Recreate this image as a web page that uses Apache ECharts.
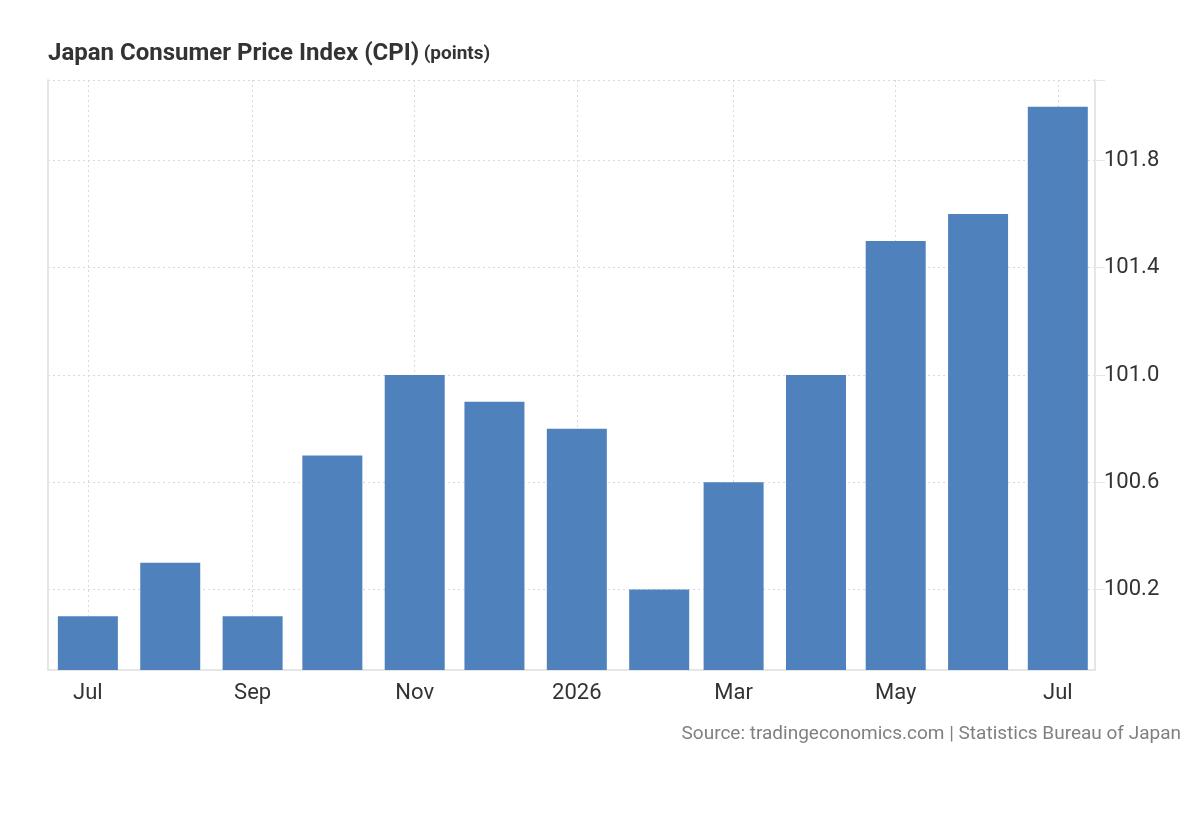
<!DOCTYPE html>
<html>
<head>
<meta charset="utf-8">
<title>Japan Consumer Price Index (CPI)</title>
<script src="https://cdn.jsdelivr.net/npm/echarts@6/dist/echarts.min.js"></script>
<style>
  html, body { margin: 0; padding: 0; background: #fff; }
  #chart { width: 1200px; height: 820px; }
</style>
</head>
<body>
<div id="chart"></div>
<script>
// monthly readings, Jul 2025 - Jul 2026
var months = ['2025-07-01', '2025-08-01', '2025-09-01', '2025-10-01', '2025-11-01', '2025-12-01',
  '2026-01-01', '2026-02-01', '2026-03-01', '2026-04-01', '2026-05-01', '2026-06-01', '2026-07-01']
var cpi = [100.1, 100.3, 100.1, 100.7, 101.0, 100.9, 100.8, 100.2, 100.6, 101.0, 101.5, 101.6, 102.0]

// x axis labels
var xTickDates = ['2025-07-01', '2025-09-01', '2025-11-01', '2026-01-01', '2026-03-01', '2026-05-01', '2026-07-01']
var xTickLabels = ['Jul', 'Sep', 'Nov', '2026', 'Mar', 'May', 'Jul']
var xStart = '2025-06-16'
var xEnd = '2026-07-15'

// y axis labels
var yTicks = [100.2, 100.6, 101.0, 101.4, 101.8]
var yMin = 99.9
var yMax = 102.1

var textColor = '#333333'
var lineColor = '#e6e6e6'
var gridColor = '#d9d9d9'

function toTime(d) {
  var p = d.split('-')
  return new Date(+p[0], +p[1] - 1, +p[2]).getTime()
}

var xTickTimes = xTickDates.map(toTime)

var chart = echarts.init(document.getElementById('chart'))

var option = {
  backgroundColor: '#ffffff',
  animation: false,
  textStyle: { fontFamily: 'Roboto' },
  title: [
    {
      left: 43,
      top: 37,
      text: '{a|Japan Consumer Price Index (CPI)} {b|(points)}',
      textStyle: {
        rich: {
          a: { fontFamily: 'Roboto', fontWeight: 'bold', fontSize: 24, color: textColor },
          b: { fontFamily: 'Roboto', fontWeight: 'bold', fontSize: 19, color: textColor }
        }
      }
    },
    {
      right: 14,
      top: 720,
      text: 'Source: tradingeconomics.com | Statistics Bureau of Japan',
      textStyle: { fontFamily: 'Roboto', fontWeight: 'normal', fontSize: 19, color: '#808080' }
    }
  ],
  grid: { left: 48, right: 105, top: 80, bottom: 150 },
  xAxis: {
    type: 'value',
    min: toTime(xStart),
    max: toTime(xEnd),
    axisLine: { show: true, lineStyle: { color: lineColor, width: 2 } },
    axisTick: { show: false, customValues: xTickTimes },
    axisLabel: {
      customValues: xTickTimes,
      margin: 12,
      fontSize: 22,
      color: textColor,
      formatter: function (value) {
        var i = xTickTimes.indexOf(+value)
        return i >= 0 ? xTickLabels[i] : ''
      }
    },
    splitLine: { show: true, lineStyle: { color: gridColor, type: [2, 3], width: 1 } }
  },
  yAxis: [
    {
      type: 'value',
      position: 'right',
      min: yMin,
      max: yMax,
      axisLine: { show: true, lineStyle: { color: lineColor, width: 2 } },
      axisTick: { show: true, length: 10, customValues: yTicks.concat([yMax]), lineStyle: { color: lineColor } },
      axisLabel: {
        customValues: yTicks,
        margin: 9,
        fontSize: 22,
        color: textColor,
        formatter: function (v) { return v.toFixed(1) }
      },
      splitLine: { show: true, lineStyle: { color: gridColor, type: [2, 3], width: 1 } }
    },
    {
      type: 'value',
      position: 'left',
      min: yMin,
      max: yMax,
      axisLine: { show: true, lineStyle: { color: lineColor, width: 2 } },
      axisTick: { show: false },
      axisLabel: { show: false },
      splitLine: { show: false }
    }
  ],
  series: [
    {
      name: 'CPI',
      type: 'bar',
      barWidth: 60,
      itemStyle: { color: '#4f81bd' },
      data: months.map(function (m, i) { return [toTime(m), cpi[i]] })
    }
  ]
}
chart.setOption(option)
</script>
</body>
</html>
